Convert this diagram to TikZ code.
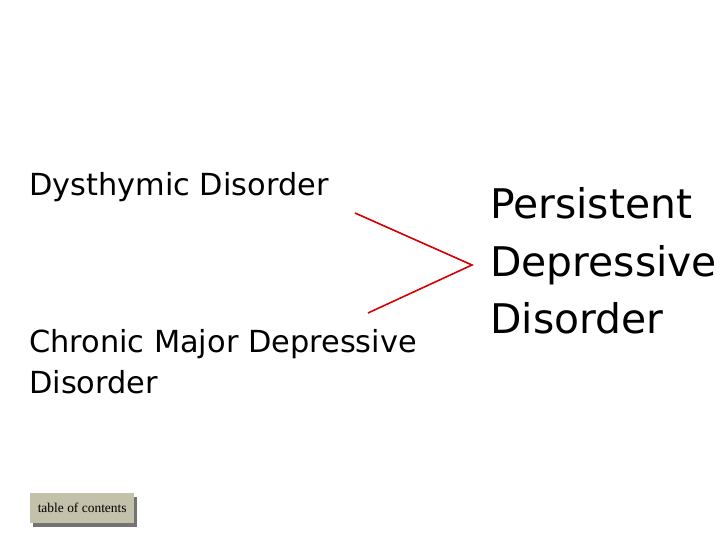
\documentclass[tikz,border=0pt]{standalone}
\usepackage{fontspec}
\setmainfont{DejaVu Sans}
\newfontfamily\btnfont{Liberation Serif}
\begin{document}
\begin{tikzpicture}[x=1bp,y=-1bp,
  lbl/.style={anchor=north west,inner sep=0,align=left,font=\fontsize{30.5}{41}\selectfont},
  big/.style={anchor=north west,inner sep=0,align=left,font=\fontsize{41}{58}\selectfont},
  link/.style={draw=red!85!black,line width=1.6bp}]
\useasboundingbox (0,0) rectangle (720,540);
\node[lbl] (dys) at (29,172) {Dysthymic Disorder};
\node[lbl] (cmd) at (29,329) {Chronic Major Depressive\\Disorder};
\node[big] (pdd) at (490,187) {Persistent\\Depressive\\Disorder};
\coordinate (a) at (355,213);
\coordinate (b) at (368,313);
\coordinate (t) at (472,265);
\draw[link] (a) -- (t) -- (b);
\fill[black!55] (33,497) rectangle (137,527);
\node[fill={rgb,255:red,196;green,193;blue,170},minimum width=104bp,minimum height=30bp,inner sep=0,anchor=north west,font=\btnfont\fontsize{13.5}{15}\selectfont] (toc) at (30,493) {table of contents};
\end{tikzpicture}
\end{document}
